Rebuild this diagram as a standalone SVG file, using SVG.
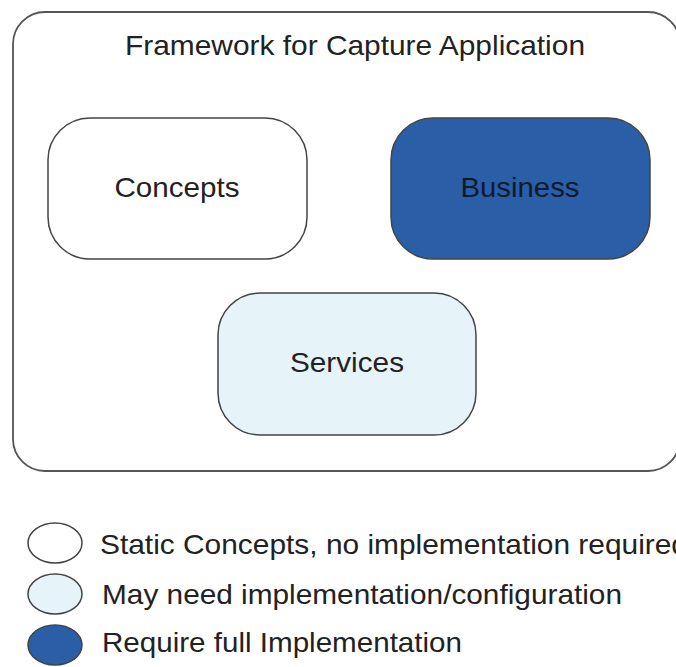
<svg xmlns="http://www.w3.org/2000/svg" width="676" height="667" viewBox="0 0 676 667">
<style>
text{font-family:"Liberation Sans",Arial,sans-serif;font-size:28px;fill:#222}
.box{stroke:#444;stroke-width:1.5}
.lbl{text-anchor:middle}
</style>
<rect width="676" height="667" fill="#fff"/>
<g id="frame">
<rect x="13" y="12" width="667" height="459" rx="32" fill="#fff" stroke="#555" stroke-width="1.8"/>
<text x="355" y="55" class="lbl" textLength="460" lengthAdjust="spacingAndGlyphs">Framework for Capture Application</text>
</g>
<g id="concepts">
<rect class="box" x="48" y="118" width="259" height="141" rx="42" fill="#fff"/>
<text x="177" y="197" class="lbl" textLength="125" lengthAdjust="spacingAndGlyphs">Concepts</text>
</g>
<g id="business">
<rect class="box" x="391" y="118" width="259" height="141" rx="42" fill="#2a5ea6"/>
<text x="520" y="197" class="lbl" style="fill:#0c1a30" textLength="119" lengthAdjust="spacingAndGlyphs">Business</text>
</g>
<g id="services">
<rect class="box" x="218" y="293" width="258" height="142" rx="42" fill="#e6f3f8"/>
<text x="347" y="372" class="lbl" textLength="114" lengthAdjust="spacingAndGlyphs">Services</text>
</g>
<g id="connectors"></g>
<g id="legend">
<ellipse class="box" cx="55" cy="543" rx="27" ry="20" fill="#fff"/>
<text x="100" y="554" textLength="588" lengthAdjust="spacingAndGlyphs">Static Concepts, no implementation required</text>
<ellipse class="box" cx="55" cy="594" rx="27" ry="20" fill="#e6f3f8"/>
<text x="102" y="604" textLength="520" lengthAdjust="spacingAndGlyphs">May need implementation/configuration</text>
<ellipse class="box" cx="55" cy="645" rx="27" ry="20" fill="#2a5ea6"/>
<text x="102" y="652" textLength="360" lengthAdjust="spacingAndGlyphs">Require full Implementation</text>
</g>
</svg>
